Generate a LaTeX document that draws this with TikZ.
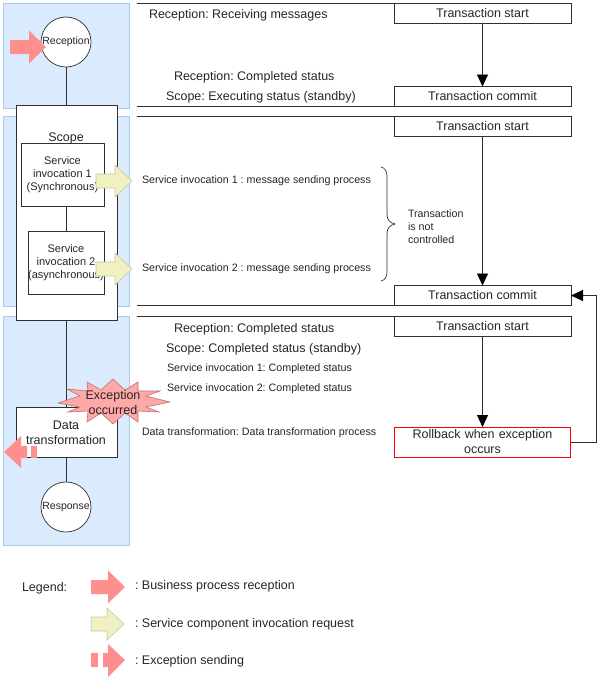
\documentclass[tikz,border=0pt]{standalone}
\usepackage{fontspec}
\setmainfont{Liberation Sans}
\usetikzlibrary{arrows.meta,calc}
\definecolor{panelfill}{HTML}{DAEBFE}
\definecolor{paneledge}{HTML}{A3CDF5}
\definecolor{pinkarrow}{HTML}{FF8F8F}
\definecolor{yellowfill}{HTML}{F0F0C0}
\definecolor{yellowedge}{HTML}{C8C8A8}
\definecolor{starfill}{HTML}{FFA8A8}
\definecolor{stardraw}{HTML}{C07070}
\definecolor{linecol}{HTML}{303030}
\definecolor{rollred}{HTML}{FF0000}
\tikzset{
  x=1pt,y=-1pt,
  every node/.style={inner sep=0pt,outer sep=0pt,text=black!85,font=\fontsize{12.5}{15}\selectfont},
  panel/.style={draw=paneledge,fill=panelfill,line width=0.9pt},
  proc/.style={draw=linecol,fill=white,line width=0.9pt,rectangle,align=center,font=\fontsize{11}{13}\selectfont},
  txbox/.style={draw=linecol,fill=white,line width=0.9pt,rectangle,align=center,minimum width=177pt},
  redbox/.style={rectangle,draw=rollred,fill=white,line width=0.8pt,align=center,minimum width=176.5pt},
  roundnode/.style={draw=linecol,fill=white,line width=0.7pt,circle,minimum size=50pt,font=\fontsize{10.5}{12}\selectfont},
  conn/.style={draw=linecol,line width=0.9pt},
  flow/.style={conn,-{Triangle[length=12pt,width=11pt,color=black]}},
  rule/.style={draw=linecol,line width=0.9pt},
  lab/.style={anchor=west},
  small/.style={anchor=west,font=\fontsize{10.7}{13}\selectfont},
}
\newcommand{\rightarrowshape}[3]{% x tail, x tip, y centre
  \path[fill=pinkarrow] (#1,#3-7) -- (#2-17,#3-7) -- (#2-17,#3-16.5) -- (#2,#3) -- (#2-17,#3+16.5) -- (#2-17,#3+7) -- (#1,#3+7) -- cycle;}
\newcommand{\yellowshape}[3]{%
  \path[fill=yellowfill,draw=yellowedge,line width=0.6pt] (#1,#3-7) -- (#2-17,#3-7) -- (#2-17,#3-16) -- (#2,#3) -- (#2-17,#3+16) -- (#2-17,#3+7) -- (#1,#3+7) -- cycle;}
\begin{document}
\frenchspacing
\begin{tikzpicture}
\useasboundingbox (0,0) rectangle (599,680);
\fill[white] (0,0) rectangle (599,680);
% panels
\node[panel,minimum width=126pt,minimum height=105pt] (p1) at (66,55.5) {};
\node[panel,minimum width=126pt,minimum height=190pt] (p2) at (66,211) {};
\node[panel,minimum width=126pt,minimum height=229pt] (p3) at (66,430.5) {};
% right boxes
\node[txbox,minimum height=20pt] (ts1) at (482.5,13) {Transaction start};
\node[txbox,minimum height=20pt] (tc1) at (482.5,96.5) {Transaction commit};
\node[txbox,minimum height=20pt] (ts2) at (482.5,126.5) {Transaction start};
\node[txbox,minimum height=20pt] (tc2) at (482.5,295.5) {Transaction commit};
\node[txbox,minimum height=20pt] (ts3) at (482.5,326) {Transaction start};
% rules
\coordinate (r1) at (137,3);
\coordinate (r2) at (137,106.5);
\coordinate (r3) at (137,116.5);
\coordinate (r4) at (137,305.5);
\coordinate (r5) at (137,316);
\draw[rule] (r1) -- (r1 -| ts1.west);
\draw[rule] (r2) -- (r2 -| tc1.west);
\draw[rule] (r3) -- (r3 -| ts2.west);
\draw[rule] (r4) -- (r4 -| tc2.west);
\draw[rule] (r5) -- (r5 -| ts3.west);
\node[redbox,minimum height=30pt,text width=170pt] (rb) at (482.5,442) {Rollback when exception\\occurs};
\draw[flow] (ts1) -- (tc1);
\draw[flow] (ts2) -- (tc2);
\draw[flow] (ts3) -- (rb);
\coordinate (bend1) at (596,442);
\coordinate (bend2) at (596,295.5);
\draw[flow] (rb.east) -- (bend1) -- (bend2) -- (tc2.east);
% flow column
\node[roundnode] (rec) at (66,42) {\raisebox{-1pt}{Reception}};
\node[proc,minimum width=101pt,minimum height=215pt] (scope) at (66.5,212.5) {};
\node[anchor=center] (scopelab) at (66,138) {Scope};
\node[proc,minimum width=83pt,minimum height=63pt] (si1) at (62.5,174.5) {Service\\invocation 1\\(Synchronous)};
\node[proc,minimum width=76pt,minimum height=63pt] (si2) at (66,262.5) {Service\\invocation 2\\(asynchronous)};
\node[proc,minimum width=101pt,minimum height=50pt,anchor=center] (dt) at (66.5,432) {};
\node[align=center,anchor=center] (dtlab) at (66,432.5) {Data\\transformation};
\node[roundnode] (resp) at (66,507) {\raisebox{-1pt}{Response}};
\draw[conn] (rec) -- (rec |- scope.north);
\draw[conn] (66,0 |- si1.south) -- (66,0 |- si2.north);
\draw[conn] (66,0 |- scope.south) -- (66,0 |- dt.north);
\draw[conn] (66,0 |- dt.south) -- (resp);
% arrows
\rightarrowshape{10}{46}{47}
\yellowshape{96}{132}{181}
\yellowshape{96}{132}{269}
% exception star
\path[fill=starfill,draw=stardraw,line width=0.6pt] (58,403) -- (80,396) -- (67,389) -- (88,391) -- (87,382) -- (101,390) -- (113,379) -- (125,390) -- (138,382) -- (138,391) -- (160,391) -- (146,396) -- (170,402) -- (146,407) -- (159,412) -- (138,411) -- (138,422) -- (125,413) -- (113,424) -- (101,413) -- (87,422) -- (88,411) -- (68,412) -- (80,407) -- cycle;
\node[align=center,anchor=center] (exc) at (113,402.5) {Exception\\occurred};
% exception arrow (left)
\path[fill=pinkarrow] (4,452) -- (21,436) -- (21,446) -- (27,446) -- (27,458) -- (21,458) -- (21,468) -- cycle;
\path[fill=pinkarrow] (31,446) rectangle (37,458);
% left-hand texts
\node[lab] (t1) at (149,15) {Reception: Receiving messages};
\node[lab] (t2) at (174,77) {Reception: Completed status};
\node[lab] (t3) at (166,97) {Scope: Executing status (standby)};
\node[small] (t4) at (142,181) {Service invocation 1 : message sending process};
\node[small] (t5) at (142,269) {Service invocation 2 : message sending process};
\node[lab] (t6) at (174,329) {Reception: Completed status};
\node[lab] (t7) at (166,349) {Scope: Completed status (standby)};
\node[small] (t8) at (167,369) {Service invocation 1: Completed status};
\node[small] (t9) at (167,389) {Service invocation 2: Completed status};
\node[small] (t10) at (142,432.5) {Data transformation: Data transformation process};
\node[small,align=left] (t11) at (408,227) {Transaction\\is not\\controlled};
% brace
\draw[draw=linecol,line width=0.7pt] (381,167) .. controls (385,168) and (387,171) .. (387,176) -- (387,214) .. controls (387,220) and (390,223) .. (395,224) .. controls (390,225) and (387,228) .. (387,234) -- (387,272) .. controls (387,277) and (385,280) .. (381,281);
% legend
\node[lab] (lg) at (22,588) {Legend:};
\rightarrowshape{91}{125}{587}
\yellowshape{91}{124}{624}
\path[fill=pinkarrow] (91,653) rectangle (98,667);
\path[fill=pinkarrow] (103,653) -- (108,653) -- (108,644) -- (125,660) -- (108,677) -- (108,667) -- (103,667) -- cycle;
\node[lab] (l1) at (135,586) {: Business process reception};
\node[lab] (l2) at (135,624) {: Service component invocation request};
\node[lab] (l3) at (135,661) {: Exception sending};
\end{tikzpicture}
\end{document}
